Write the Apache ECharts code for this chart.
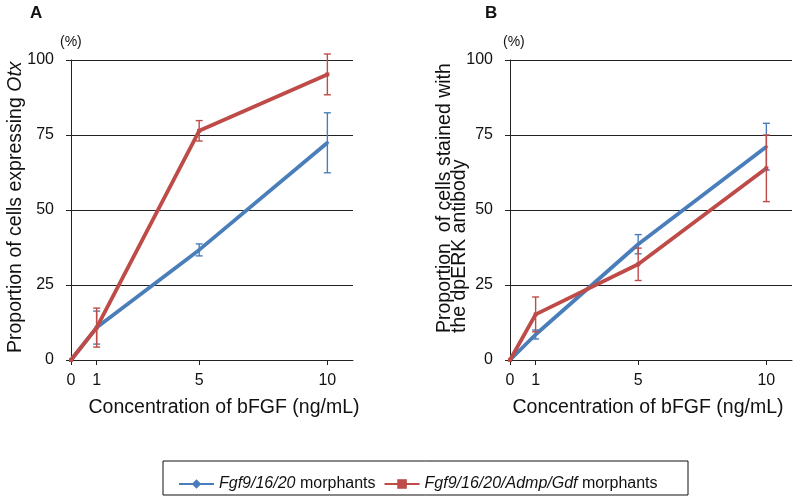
<!DOCTYPE html>
<html>
<head>
<meta charset="utf-8">
<script src="https://cdn.jsdelivr.net/npm/echarts@6/dist/echarts.min.js"></script>
<style>html,body{margin:0;padding:0;background:#fff;}#c{width:796px;height:501px;}</style>
</head>
<body>
<div id="c"></div>
<script>
// ---- data ----
var conc = [0, 1, 5, 10];
var xTicks = [0, 1, 5, 10];
var yTicks = [0, 25, 50, 75, 100];
var seriesNames = ['Fgf9/16/20 morphants', 'Fgf9/16/20/Admp/Gdf morphants'];
// Panel A: proportion of cells expressing Otx (%)
var aBlue = [0, 10.8, 36.7, 72.4];
var aBlueErr = [0, 5.5, 2.0, 10.0];
var aRed = [0, 10.8, 76.4, 95.2];
var aRedErr = [0, 6.5, 3.4, 6.8];
// Panel B: proportion of cells stained with dpERK antibody (%)
var bBlue = [0, 8.5, 38.6, 71.1];
var bBlueErr = [0, 1.5, 3.2, 7.8];
var bRed = [0, 15.2, 31.9, 63.9];
var bRedErr = [0, 5.8, 5.4, 11.1];

var BLUE = '#4a7ebb', RED = '#be4b48';
var FONT = '"Liberation Sans", Arial, sans-serif';

function pts(v) { return conc.map(function (x, i) { return [x, v[i]]; }); }
function errPts(v, e) { return conc.map(function (x, i) { return [x, v[i] - e[i], v[i] + e[i]]; }); }

function errSeries(idx, v, e, color) {
  return {
    type: 'custom', xAxisIndex: idx, yAxisIndex: idx, z: 5, silent: true,
    data: errPts(v, e),
    encode: { x: 0, y: [1, 2] },
    renderItem: function (params, api) {
      if (api.value(2) - api.value(1) <= 0) return null;
      var lo = api.coord([api.value(0), api.value(1)]);
      var hi = api.coord([api.value(0), api.value(2)]);
      var w = 3.5;
      var st = { stroke: color, lineWidth: 1.4 };
      return { type: 'group', children: [
        { type: 'line', shape: { x1: lo[0], y1: lo[1], x2: hi[0], y2: hi[1] }, style: st },
        { type: 'line', shape: { x1: lo[0] - w, y1: lo[1], x2: lo[0] + w, y2: lo[1] }, style: st },
        { type: 'line', shape: { x1: hi[0] - w, y1: hi[1], x2: hi[0] + w, y2: hi[1] }, style: st }
      ]};
    }
  };
}
function lineSeries(idx, name, v, color, sym) {
  return {
    type: 'line', name: name, xAxisIndex: idx, yAxisIndex: idx, data: pts(v),
    symbol: sym, symbolSize: 4, showSymbol: true, z: 3,
    lineStyle: { color: color, width: 3.8 }, itemStyle: { color: color }
  };
}
function xAx(idx) {
  return {
    type: 'value', gridIndex: idx, min: 0, max: 11,
    axisLine: { lineStyle: { color: '#222', width: 1 } },
    axisTick: { show: true, length: 5, lineStyle: { color: '#222' }, customValues: xTicks },
    axisLabel: { customValues: xTicks, color: '#111', fontSize: 16, fontFamily: FONT, margin: 13 },
    splitLine: { show: false }
  };
}
function yAx(idx) {
  return {
    type: 'value', gridIndex: idx, min: 0, max: 100, interval: 25,
    axisLine: { show: true, lineStyle: { color: '#222', width: 1 } },
    axisTick: { show: true, length: 5, lineStyle: { color: '#222' } },
    axisLabel: { color: '#111', fontSize: 16, fontFamily: FONT, margin: 17,
      customValues: yTicks },
    splitLine: { show: true, lineStyle: { color: '#222', width: 1.2 } }
  };
}

var chart = echarts.init(document.getElementById('c'), null, { renderer: 'canvas' });
chart.setOption({
  animation: false,
  backgroundColor: '#fff',
  grid: [
    { left: 71, top: 60, width: 282, height: 300 },
    { left: 510, top: 60, width: 282, height: 300 }
  ],
  xAxis: [xAx(0), xAx(1)],
  yAxis: [yAx(0), yAx(1)],
  legend: {
    left: 173, top: 471, itemWidth: 35, itemHeight: 12, itemGap: 8,
    data: seriesNames,
    textStyle: { fontSize: 16, fontFamily: FONT, color: '#111',
      rich: { i: { fontStyle: 'italic', fontSize: 16, fontFamily: FONT, color: '#111' },
              n: { fontSize: 16, fontFamily: FONT, color: '#111' } } },
    formatter: function (name) {
      var k = name.lastIndexOf(' morphants');
      return '{i|' + name.slice(0, k) + '}{n| morphants}';
    }
  },
  graphic: [
    { type: 'rect', shape: { x: 163, y: 461, width: 525, height: 34 }, style: { fill: 'none', stroke: '#111', lineWidth: 1 } },
    { type: 'text', x: 30, y: 13, style: { text: 'A', font: 'bold 17px ' + FONT, fill: '#111', verticalAlign: 'middle' } },
    { type: 'text', x: 485, y: 13, style: { text: 'B', font: 'bold 17px ' + FONT, fill: '#111', verticalAlign: 'middle' } },
    { type: 'text', x: 60, y: 42, style: { text: '(%)', font: '14px ' + FONT, fill: '#111', verticalAlign: 'middle' } },
    { type: 'text', x: 503, y: 42, style: { text: '(%)', font: '14px ' + FONT, fill: '#111', verticalAlign: 'middle' } },
    { type: 'text', x: 224, y: 408, style: { text: 'Concentration of bFGF (ng/mL)', font: '19.5px ' + FONT, fill: '#111', align: 'center', verticalAlign: 'middle' } },
    { type: 'text', x: 648, y: 408, style: { text: 'Concentration of bFGF (ng/mL)', font: '19.5px ' + FONT, fill: '#111', align: 'center', verticalAlign: 'middle' } },
    { type: 'text', x: 16, y: 353, rotation: Math.PI / 2,
      style: { text: '{n|Proportion of cells expressing }{i|Otx}', align: 'left', verticalAlign: 'middle',
        rich: { n: { font: '19.5px ' + FONT, fill: '#111' }, i: { font: 'italic 19.5px ' + FONT, fill: '#111' } } } },
    { type: 'text', x: 452, y: 333, rotation: Math.PI / 2,
      style: { text: 'Proportion  of cells stained with\nthe dpERK antibody', font: '19.5px ' + FONT, fill: '#111',
        align: 'left', verticalAlign: 'middle', lineHeight: 15 } }
  ],
  series: [
    lineSeries(0, seriesNames[0], aBlue, BLUE, 'diamond'),
    lineSeries(0, seriesNames[1], aRed, RED, 'rect'),
    errSeries(0, aBlue, aBlueErr, BLUE),
    errSeries(0, aRed, aRedErr, RED),
    lineSeries(1, seriesNames[0], bBlue, BLUE, 'diamond'),
    lineSeries(1, seriesNames[1], bRed, RED, 'rect'),
    errSeries(1, bBlue, bBlueErr, BLUE),
    errSeries(1, bRed, bRedErr, RED)
  ]
});
</script>
</body>
</html>
